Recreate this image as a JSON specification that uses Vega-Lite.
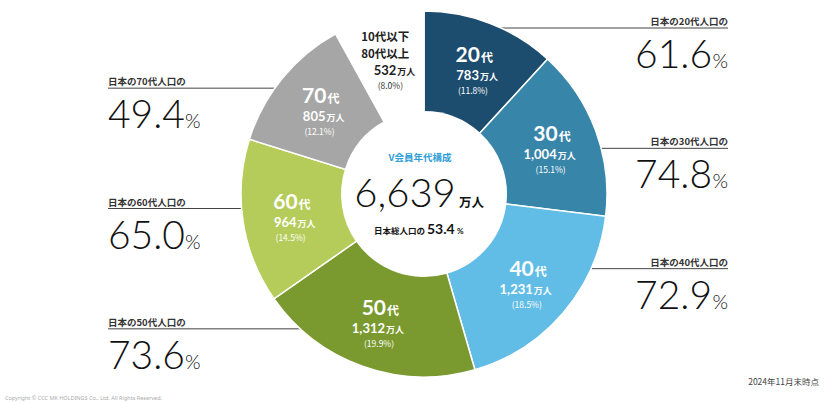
{
  "$schema": "https://vega.github.io/schema/vega-lite/v6.json",
  "autosize": {"type": "none"},
  "width": 802,
  "height": 388,
  "padding": {"left": 23, "top": 0, "right": 0, "bottom": 15},
  "background": "white",
  "config": {"view": {"stroke": null}},
  "datasets": {
    "age": [
      {"seq": 1, "group": "20代", "label": "20", "label2": null, "count": 783, "share": 11.8, "share_text": "(11.8%)", "japan_label": "日本の20代人口の", "japan": 61.6},
      {"seq": 2, "group": "30代", "label": "30", "label2": null, "count": 1004, "share": 15.1, "share_text": "(15.1%)", "japan_label": "日本の30代人口の", "japan": 74.8},
      {"seq": 3, "group": "40代", "label": "40", "label2": null, "count": 1231, "share": 18.5, "share_text": "(18.5%)", "japan_label": "日本の40代人口の", "japan": 72.9},
      {"seq": 4, "group": "50代", "label": "50", "label2": null, "count": 1312, "share": 19.9, "share_text": "(19.9%)", "japan_label": "日本の50代人口の", "japan": 73.6},
      {"seq": 5, "group": "60代", "label": "60", "label2": null, "count": 964, "share": 14.5, "share_text": "(14.5%)", "japan_label": "日本の60代人口の", "japan": 65.0},
      {"seq": 6, "group": "70代", "label": "70", "label2": null, "count": 805, "share": 12.1, "share_text": "(12.1%)", "japan_label": "日本の70代人口の", "japan": 49.4},
      {"seq": 7, "group": "10代以下・80代以上", "label": "10代以下", "label2": "80代以上", "count": 532, "share": 8.0, "share_text": "(8.0%)", "japan_label": null, "japan": null}
    ],
    "summary": [
      {"title": "V会員年代構成", "total": 6639, "japan_share": 53.4, "note": "2024年11月末時点", "copyright": "Copyright © CCC MK HOLDINGS Co., Ltd. All Rights Reserved."}
    ]
  },
  "layer": [
    {
      "data": {"name": "age"},
      "transform": [{"filter": {"field": "group", "oneOf": ["20代", "30代", "40代"]}}],
      "mark": {"type": "rule", "color": "#444", "strokeWidth": 1},
      "encoding": {
        "x": {"datum": "中", "type": "nominal", "scale": {"type": "point", "domain": ["左", "中", "右"], "range": [85, 705], "padding": 0}, "axis": null},
        "x2": {"datum": "右"},
        "y": {"field": "group", "type": "nominal", "scale": {"type": "point", "domain": ["20代", "70代", "30代", "60代", "40代", "50代", "注記"], "range": [28, 389], "padding": 0}, "axis": null}
      }
    },
    {
      "data": {"name": "age"},
      "transform": [{"filter": {"field": "group", "oneOf": ["50代", "60代", "70代"]}}],
      "mark": {"type": "rule", "color": "#444", "strokeWidth": 1},
      "encoding": {
        "x": {"datum": "左", "type": "nominal", "scale": {"type": "point", "domain": ["左", "中", "右"], "range": [85, 705], "padding": 0}, "axis": null},
        "x2": {"datum": "中"},
        "y": {"field": "group", "type": "nominal", "scale": {"type": "point", "domain": ["20代", "70代", "30代", "60代", "40代", "50代", "注記"], "range": [28, 389], "padding": 0}, "axis": null}
      }
    },
    {
      "data": {"name": "age"},
      "mark": {"type": "arc", "outerRadius": 183, "innerRadius": 0, "stroke": "white", "strokeWidth": 1.5},
      "encoding": {
        "theta": {"field": "count", "type": "quantitative", "stack": true},
        "order": {"field": "seq", "type": "quantitative"},
        "color": {"field": "group", "type": "nominal", "legend": null,
          "scale": {"domain": ["20代", "30代", "40代", "50代", "60代", "70代", "10代以下・80代以上"],
                    "range": ["#1d4d6e", "#3885aa", "#62bde6", "#7a9a30", "#b5cc5a", "#a6a6a6", "#ffffff"]}}
      }
    },
    {
      "data": {"name": "age"},
      "mark": {"type": "arc", "outerRadius": 83, "innerRadius": 0, "fill": "white", "strokeWidth": 0},
      "encoding": {
        "theta": {"field": "count", "type": "quantitative", "stack": true},
        "order": {"field": "seq", "type": "quantitative"}
      }
    },
    {
      "data": {"name": "age"},
      "mark": {"type": "text", "radius": 135, "align": "right", "baseline": "alphabetic", "dx": 7, "dy": -6, "fontSize": 21, "fontWeight": "bold", "font": "Lato, sans-serif", "color": "white"},
      "encoding": {
        "theta": {"field": "count", "type": "quantitative", "stack": true},
        "order": {"field": "seq", "type": "quantitative"},
        "text": {"field": "label", "type": "nominal"},
        "opacity": {"condition": {"test": "datum.seq < 7", "value": 1}, "value": 0}
      }
    },
    {
      "data": {"name": "age"},
      "mark": {"type": "text", "text": "代", "radius": 135, "align": "left", "baseline": "alphabetic", "dx": 8, "dy": -6, "fontSize": 12, "fontWeight": "bold", "font": "Noto Sans CJK JP, sans-serif", "color": "white"},
      "encoding": {
        "theta": {"field": "count", "type": "quantitative", "stack": true},
        "order": {"field": "seq", "type": "quantitative"},
        "opacity": {"condition": {"test": "datum.seq < 7", "value": 1}, "value": 0}
      }
    },
    {
      "data": {"name": "age"},
      "mark": {"type": "text", "radius": 135, "align": "center", "baseline": "alphabetic", "dx": -5, "dy": -22, "fontSize": 11.5, "fontWeight": "bold", "font": "Noto Sans CJK JP, sans-serif", "color": "#222"},
      "encoding": {
        "theta": {"field": "count", "type": "quantitative", "stack": true},
        "order": {"field": "seq", "type": "quantitative"},
        "text": {"field": "label", "type": "nominal"},
        "opacity": {"condition": {"test": "datum.seq == 7", "value": 1}, "value": 0}
      }
    },
    {
      "data": {"name": "age"},
      "mark": {"type": "text", "radius": 135, "align": "center", "baseline": "alphabetic", "dx": -5, "dy": -5, "fontSize": 11.5, "fontWeight": "bold", "font": "Noto Sans CJK JP, sans-serif", "color": "#222"},
      "encoding": {
        "theta": {"field": "count", "type": "quantitative", "stack": true},
        "order": {"field": "seq", "type": "quantitative"},
        "text": {"field": "label2", "type": "nominal"},
        "opacity": {"condition": {"test": "datum.seq == 7", "value": 1}, "value": 0}
      }
    },
    {
      "data": {"name": "age"},
      "mark": {"type": "text", "radius": 135, "align": "right", "baseline": "alphabetic", "dx": 6, "dy": 12, "fontSize": 13, "fontWeight": "bold", "font": "Lato, sans-serif"},
      "encoding": {
        "theta": {"field": "count", "type": "quantitative", "stack": true},
        "order": {"field": "seq", "type": "quantitative"},
        "text": {"field": "count", "type": "quantitative", "format": ",d"},
        "color": {"condition": {"test": "datum.seq == 7", "value": "#222"}, "value": "white"}
      }
    },
    {
      "data": {"name": "age"},
      "mark": {"type": "text", "text": "万人", "radius": 135, "align": "left", "baseline": "alphabetic", "dx": 7, "dy": 12, "fontSize": 9, "fontWeight": "bold", "font": "Noto Sans CJK JP, sans-serif"},
      "encoding": {
        "theta": {"field": "count", "type": "quantitative", "stack": true},
        "order": {"field": "seq", "type": "quantitative"},
        "color": {"condition": {"test": "datum.seq == 7", "value": "#222"}, "value": "white"}
      }
    },
    {
      "data": {"name": "age"},
      "mark": {"type": "text", "radius": 135, "align": "center", "baseline": "alphabetic", "dx": 0, "dy": 26, "fontSize": 8.5, "font": "Noto Sans CJK JP, sans-serif"},
      "encoding": {
        "theta": {"field": "count", "type": "quantitative", "stack": true},
        "order": {"field": "seq", "type": "quantitative"},
        "text": {"field": "share_text", "type": "nominal"},
        "color": {"condition": {"test": "datum.seq == 7", "value": "#333"}, "value": "white"}
      }
    },
    {
      "data": {"name": "summary"},
      "mark": {"type": "text", "align": "center", "baseline": "alphabetic", "dx": -4, "dy": -33, "fontSize": 9.5, "fontWeight": "bold", "font": "Noto Sans CJK JP, sans-serif", "color": "#2f9ed6"},
      "encoding": {"text": {"field": "title", "type": "nominal"}}
    },
    {
      "data": {"name": "summary"},
      "mark": {"type": "text", "align": "center", "baseline": "alphabetic", "dx": -19, "dy": 13, "fontSize": 40, "fontWeight": 300, "font": "Lato, sans-serif", "color": "#111"},
      "encoding": {"text": {"field": "total", "type": "quantitative", "format": ",d"}}
    },
    {
      "data": {"name": "summary"},
      "mark": {"type": "text", "text": "万人", "align": "left", "baseline": "alphabetic", "dx": 35, "dy": 13, "fontSize": 12.5, "fontWeight": "bold", "font": "Noto Sans CJK JP, sans-serif", "color": "#111"},
      "encoding": {}
    },
    {
      "data": {"name": "summary"},
      "mark": {"type": "text", "text": "日本総人口の", "align": "right", "baseline": "alphabetic", "dx": 1, "dy": 40, "fontSize": 8.5, "fontWeight": "bold", "font": "Noto Sans CJK JP, sans-serif", "color": "#111"},
      "encoding": {}
    },
    {
      "data": {"name": "summary"},
      "mark": {"type": "text", "align": "left", "baseline": "alphabetic", "dx": 3, "dy": 40, "fontSize": 14, "fontWeight": "bold", "font": "Lato, sans-serif", "color": "#111"},
      "encoding": {"text": {"field": "japan_share", "type": "quantitative", "format": ".1f"}}
    },
    {
      "data": {"name": "summary"},
      "mark": {"type": "text", "text": "%", "align": "left", "baseline": "alphabetic", "dx": 33, "dy": 40, "fontSize": 8, "fontWeight": "bold", "font": "Lato, sans-serif", "color": "#111"},
      "encoding": {}
    },
    {
      "data": {"name": "age"},
      "transform": [{"filter": {"field": "group", "oneOf": ["20代", "30代", "40代"]}}],
      "mark": {"type": "text", "align": "right", "baseline": "alphabetic", "dy": -3, "fontSize": 9.5, "fontWeight": "bold", "font": "Noto Sans CJK JP, sans-serif", "color": "#333"},
      "encoding": {
        "x": {"datum": "右", "type": "nominal", "scale": {"type": "point", "domain": ["左", "中", "右"], "range": [85, 705], "padding": 0}, "axis": null},
        "y": {"field": "group", "type": "nominal", "scale": {"type": "point", "domain": ["20代", "70代", "30代", "60代", "40代", "50代", "注記"], "range": [28, 389], "padding": 0}, "axis": null},
        "text": {"field": "japan_label", "type": "nominal"}
      }
    },
    {
      "data": {"name": "age"},
      "transform": [{"filter": {"field": "group", "oneOf": ["20代", "30代", "40代"]}}],
      "mark": {"type": "text", "align": "right", "baseline": "alphabetic", "dx": -16, "dy": 40, "fontSize": 39, "fontWeight": 300, "font": "Lato, sans-serif", "color": "#111"},
      "encoding": {
        "x": {"datum": "右", "type": "nominal", "scale": {"type": "point", "domain": ["左", "中", "右"], "range": [85, 705], "padding": 0}, "axis": null},
        "y": {"field": "group", "type": "nominal", "scale": {"type": "point", "domain": ["20代", "70代", "30代", "60代", "40代", "50代", "注記"], "range": [28, 389], "padding": 0}, "axis": null},
        "text": {"field": "japan", "type": "quantitative", "format": ".1f"}
      }
    },
    {
      "data": {"name": "age"},
      "transform": [{"filter": {"field": "group", "oneOf": ["20代", "30代", "40代"]}}],
      "mark": {"type": "text", "text": "%", "align": "right", "baseline": "alphabetic", "dy": 40, "fontSize": 20, "fontWeight": 300, "font": "Lato, sans-serif", "color": "#111"},
      "encoding": {
        "x": {"datum": "右", "type": "nominal", "scale": {"type": "point", "domain": ["左", "中", "右"], "range": [85, 705], "padding": 0}, "axis": null},
        "y": {"field": "group", "type": "nominal", "scale": {"type": "point", "domain": ["20代", "70代", "30代", "60代", "40代", "50代", "注記"], "range": [28, 389], "padding": 0}, "axis": null}
      }
    },
    {
      "data": {"name": "age"},
      "transform": [{"filter": {"field": "group", "oneOf": ["50代", "60代", "70代"]}}],
      "mark": {"type": "text", "align": "left", "baseline": "alphabetic", "dy": -3, "fontSize": 9.5, "fontWeight": "bold", "font": "Noto Sans CJK JP, sans-serif", "color": "#333"},
      "encoding": {
        "x": {"datum": "左", "type": "nominal", "scale": {"type": "point", "domain": ["左", "中", "右"], "range": [85, 705], "padding": 0}, "axis": null},
        "y": {"field": "group", "type": "nominal", "scale": {"type": "point", "domain": ["20代", "70代", "30代", "60代", "40代", "50代", "注記"], "range": [28, 389], "padding": 0}, "axis": null},
        "text": {"field": "japan_label", "type": "nominal"}
      }
    },
    {
      "data": {"name": "age"},
      "transform": [{"filter": {"field": "group", "oneOf": ["50代", "60代", "70代"]}}],
      "mark": {"type": "text", "align": "left", "baseline": "alphabetic", "dy": 40, "fontSize": 39, "fontWeight": 300, "font": "Lato, sans-serif", "color": "#111"},
      "encoding": {
        "x": {"datum": "左", "type": "nominal", "scale": {"type": "point", "domain": ["左", "中", "右"], "range": [85, 705], "padding": 0}, "axis": null},
        "y": {"field": "group", "type": "nominal", "scale": {"type": "point", "domain": ["20代", "70代", "30代", "60代", "40代", "50代", "注記"], "range": [28, 389], "padding": 0}, "axis": null},
        "text": {"field": "japan", "type": "quantitative", "format": ".1f"}
      }
    },
    {
      "data": {"name": "age"},
      "transform": [{"filter": {"field": "group", "oneOf": ["50代", "60代", "70代"]}}],
      "mark": {"type": "text", "text": "%", "align": "left", "baseline": "alphabetic", "dx": 77, "dy": 40, "fontSize": 20, "fontWeight": 300, "font": "Lato, sans-serif", "color": "#111"},
      "encoding": {
        "x": {"datum": "左", "type": "nominal", "scale": {"type": "point", "domain": ["左", "中", "右"], "range": [85, 705], "padding": 0}, "axis": null},
        "y": {"field": "group", "type": "nominal", "scale": {"type": "point", "domain": ["20代", "70代", "30代", "60代", "40代", "50代", "注記"], "range": [28, 389], "padding": 0}, "axis": null}
      }
    },
    {
      "data": {"name": "summary"},
      "mark": {"type": "text", "align": "right", "baseline": "alphabetic", "dx": 91, "dy": -4, "fontSize": 8.5, "font": "Noto Sans CJK JP, sans-serif", "color": "#444"},
      "encoding": {
        "x": {"datum": "右", "type": "nominal", "scale": {"type": "point", "domain": ["左", "中", "右"], "range": [85, 705], "padding": 0}, "axis": null},
        "y": {"datum": "注記", "type": "nominal", "scale": {"type": "point", "domain": ["20代", "70代", "30代", "60代", "40代", "50代", "注記"], "range": [28, 389], "padding": 0}, "axis": null},
        "text": {"field": "note", "type": "nominal"}
      }
    },
    {
      "data": {"name": "summary"},
      "mark": {"type": "text", "align": "left", "baseline": "alphabetic", "dx": -103, "dy": 11, "fontSize": 5.5, "font": "Noto Sans, sans-serif", "color": "#aaa"},
      "encoding": {
        "x": {"datum": "左", "type": "nominal", "scale": {"type": "point", "domain": ["左", "中", "右"], "range": [85, 705], "padding": 0}, "axis": null},
        "y": {"datum": "注記", "type": "nominal", "scale": {"type": "point", "domain": ["20代", "70代", "30代", "60代", "40代", "50代", "注記"], "range": [28, 389], "padding": 0}, "axis": null},
        "text": {"field": "copyright", "type": "nominal"}
      }
    }
  ]
}
